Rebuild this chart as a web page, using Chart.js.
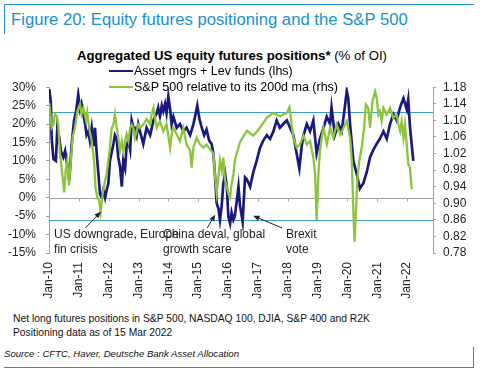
<!DOCTYPE html>
<html lang="en">
<head>
    <meta charset="UTF-8">
    <title>Equity futures positioning and the S&P 500</title>
    <script src="https://cdn.jsdelivr.net/npm/chart.js"></script>
    <style>
        body {
            margin: 0;
            padding: 0;
            width: 480px;
            height: 377px;
            background: #fff;
            font-family: "Liberation Sans", Arial, sans-serif;
            position: relative;
            overflow: hidden;
        }
        .frame-top {
            position: absolute;
            left: 4px; top: 4px;
            width: 469px; height: 29px;
            border-top: 1.5px solid #1a8fd0;
            border-left: 1.5px solid #1a8fd0;
        }
        .frame-bottom {
            position: absolute;
            left: 4px; top: 347px;
            width: 469px; height: 20px;
            border-bottom: 1.5px solid #1a8fd0;
            border-right: 1.5px solid #1a8fd0;
        }
        .fig-title {
            position: absolute;
            left: 11px; top: 10px;
            font-size: 16.7px;
            color: #1a8fd0;
            white-space: nowrap;
        }
        .chart-title {
            position: absolute;
            left: 0; width: 464px; top: 48px;
            text-align: center;
            font-size: 13.2px;
            color: #000;
            white-space: nowrap;
        }
        .legend {
            position: absolute;
            left: 109px;
            font-size: 12.5px;
            color: #000;
            white-space: nowrap;
            display: flex;
            align-items: center;
        }
        .legend span.swatch {
            display: inline-block;
            width: 24px; height: 2.5px;
            margin-right: 1px;
        }
        .chart-box {
            position: absolute;
            left: 0; top: 70px;
            width: 480px; height: 233px;
        }
        .note {
            position: absolute;
            left: 13px;
            font-size: 10.3px;
            color: #111;
            white-space: nowrap;
        }
        .source {
            position: absolute;
            left: 4px; top: 348px;
            font-size: 9.6px;
            font-style: italic;
            color: #111;
            white-space: nowrap;
        }
    </style>
</head>
<body>

<div class="frame-top"></div>
<div class="fig-title">Figure 20: Equity futures positioning and the S&amp;P 500</div>
<div class="chart-title"><b>Aggregated US equity futures positions*</b> (% of OI)</div>

<div class="chart-box"><canvas id="posChart"></canvas></div>

<div class="legend" style="top: 64px;"><span class="swatch" style="background:#1b1a7c"></span>Asset mgrs + Lev funds (lhs)</div>
<div class="legend" style="top: 80px;"><span class="swatch" style="background:#8cc43c"></span>S&amp;P 500 relative to its 200d ma (rhs)</div>

<div class="note" style="top: 313px;">Net long futures positions in S&amp;P 500, NASDAQ 100, DJIA, S&amp;P 400 and R2K</div>
<div class="note" style="top: 327px;">Positioning data as of 15 Mar 2022</div>
<div class="source">Source : CFTC, Haver, Deutsche Bank Asset Allocation</div>
<div class="frame-bottom"></div>

<script>
    // Asset mgrs + Lev funds net position, % of open interest (lhs)
    const posYears = [
        2010.01, 2010.06, 2010.09, 2010.15, 2010.23, 2010.28, 2010.35, 2010.40, 2010.48, 2010.54,
        2010.59, 2010.65, 2010.68, 2010.76, 2010.84, 2010.91, 2010.98, 2011.04, 2011.09, 2011.15,
        2011.21, 2011.26, 2011.32, 2011.37, 2011.43, 2011.49, 2011.54, 2011.60, 2011.65, 2011.71,
        2011.77, 2011.82, 2011.88, 2011.93, 2011.99, 2012.04, 2012.16, 2012.21, 2012.27, 2012.32,
        2012.38, 2012.44, 2012.49, 2012.55, 2012.60, 2012.66, 2012.72, 2012.77, 2012.83, 2012.88,
        2012.94, 2012.99, 2013.05, 2013.16, 2013.27, 2013.39, 2013.50, 2013.61, 2013.66, 2013.72,
        2013.78, 2013.83, 2013.89, 2013.94, 2014.00, 2014.06, 2014.11, 2014.17, 2014.28, 2014.39,
        2014.50, 2014.61, 2014.73, 2014.84, 2014.92, 2014.97, 2015.04, 2015.12, 2015.20, 2015.28,
        2015.37, 2015.45, 2015.51, 2015.56, 2015.62, 2015.68, 2015.73, 2015.79, 2015.84, 2015.90,
        2015.96, 2016.01, 2016.07, 2016.12, 2016.18, 2016.23, 2016.29, 2016.35, 2016.40, 2016.49,
        2016.57, 2016.63, 2016.74, 2016.85, 2016.96, 2017.07, 2017.18, 2017.30, 2017.41, 2017.52,
        2017.63, 2017.74, 2017.85, 2017.97, 2018.08, 2018.19, 2018.30, 2018.39, 2018.47, 2018.53,
        2018.64, 2018.75, 2018.86, 2018.97, 2019.08, 2019.20, 2019.31, 2019.42, 2019.47, 2019.58,
        2019.70, 2019.81, 2019.92, 2019.98, 2020.03, 2020.09, 2020.20, 2020.31, 2020.42, 2020.54,
        2020.65, 2020.76, 2020.87, 2020.98, 2021.09, 2021.21, 2021.32, 2021.43, 2021.54, 2021.65,
        2021.77, 2021.88, 2021.99, 2022.04, 2022.10, 2022.15, 2022.21
    ];
    const posValues = [
        29.5, 26, 16, 10.5, 10, 19, 16, 12.7, 11, 12.7,
        10, 6.5, 4.7, 14.6, 21, 23.5, 28, 24, 25.5, 22.7,
        20, 17, 18, 15.5, 19, 14, 19, 12, 7, 1,
        0, 2, 0, 2, 4, 10, 14.6, 17, 16, 11,
        8.5, 3, 10, 8, 14, 15.6, 13, 21, 19, 19,
        17, 20, 18, 14.6, 19, 17, 21, 23, 24.5, 22,
        25, 23.5, 25.5, 23, 27.5, 24, 20, 22, 19, 20,
        18, 19, 17, 20, 23, 25, 21.5, 19, 17, 18.5,
        15.5, 14.6, 12, 6.5, -1.5, -3, -6, -2, 3.6, 6.5,
        3, -5, -7, -4, -6, -5, -1, 3, -2, -6.5,
        5.5, 5, 3, 7, 10, 13.5, 15.5, 17, 16, 18,
        21, 19, 20, 21, 19, 17, 12, 8, 14, 17,
        20, 18, 21, 12, 16, 19, 22, 20, 24.5, 17,
        20, 18, 25, 29, 27, 20, 10, 6.5, 2.5, 4,
        7, 11, 13, 14.6, 16, 18, 16, 20, 22.7, 21,
        24.6, 27, 24, 26.6, 19, 15, 10
    ];

    // S&P 500 relative to its 200-day moving average (rhs)
    const spxYears = [
        2010.01, 2010.09, 2010.15, 2010.20, 2010.26, 2010.31, 2010.37, 2010.42, 2010.48, 2010.51,
        2010.56, 2010.61, 2010.67, 2010.73, 2010.79, 2010.87, 2010.95, 2011.04, 2011.09, 2011.15,
        2011.24, 2011.28, 2011.35, 2011.43, 2011.51, 2011.56, 2011.62, 2011.68, 2011.73, 2011.80,
        2011.88, 2011.93, 2011.99, 2012.04, 2012.10, 2012.16, 2012.21, 2012.27, 2012.32, 2012.38,
        2012.44, 2012.49, 2012.55, 2012.60, 2012.66, 2012.72, 2012.77, 2012.83, 2012.88, 2012.94,
        2012.99, 2013.05, 2013.16, 2013.27, 2013.39, 2013.44, 2013.50, 2013.55, 2013.61, 2013.72,
        2013.83, 2013.94, 2014.06, 2014.11, 2014.17, 2014.28, 2014.39, 2014.50, 2014.61, 2014.73,
        2014.78, 2014.84, 2014.95, 2015.06, 2015.17, 2015.28, 2015.40, 2015.51, 2015.56, 2015.62,
        2015.68, 2015.73, 2015.79, 2015.84, 2015.90, 2015.96, 2016.01, 2016.07, 2016.12, 2016.18,
        2016.23, 2016.29, 2016.35, 2016.40, 2016.63, 2016.85, 2017.07, 2017.30, 2017.52, 2017.74,
        2017.97, 2018.06, 2018.13, 2018.19, 2018.30, 2018.41, 2018.53, 2018.64, 2018.75, 2018.86,
        2018.92, 2018.97, 2019.03, 2019.08, 2019.14, 2019.20, 2019.31, 2019.42, 2019.53, 2019.64,
        2019.76, 2019.87, 2019.98, 2020.09, 2020.15, 2020.20, 2020.24, 2020.29, 2020.34, 2020.40,
        2020.48, 2020.56, 2020.62, 2020.70, 2020.76, 2020.84, 2020.93, 2020.98, 2021.04, 2021.09,
        2021.15, 2021.21, 2021.32, 2021.43, 2021.54, 2021.65, 2021.71, 2021.77, 2021.82, 2021.88,
        2021.93, 2021.99, 2022.04, 2022.10, 2022.15, 2022.18
    ];
    const spxValues = [
        1.142, 1.082, 1.090, 1.115, 1.110, 1.090, 1.020, 0.986, 0.948, 0.926,
        0.979, 1.003, 0.943, 1.003, 1.058, 1.082, 1.122, 1.139, 1.115, 1.130,
        1.100, 1.120, 1.080, 1.050, 1.003, 0.938, 0.914, 0.907, 0.878, 0.924,
        0.955, 0.970, 1.003, 1.034, 1.080, 1.090, 1.115, 1.082, 1.058, 1.027,
        1.050, 1.027, 1.050, 1.067, 1.050, 1.082, 1.090, 1.082, 1.058, 1.074,
        1.090, 1.082, 1.090, 1.103, 1.090, 1.115, 1.130, 1.106, 1.082, 1.098,
        1.074, 1.090, 1.034, 1.066, 1.082, 1.066, 1.050, 1.082, 1.042, 1.027,
        0.986, 1.034, 1.058, 1.042, 1.034, 1.042, 1.030, 1.020, 0.970, 0.924,
        0.963, 1.003, 0.979, 1.010, 0.955, 0.940, 0.924, 0.914, 0.947, 0.970,
        1.003, 1.020, 1.034, 1.047, 1.075, 1.063, 1.082, 1.106, 1.118, 1.110,
        1.118, 1.132, 1.090, 1.058, 1.034, 1.042, 1.063, 1.042, 1.050, 1.010,
        0.970, 0.859, 0.970, 1.026, 1.058, 1.082, 1.042, 1.082, 1.058, 1.090,
        1.066, 1.082, 1.098, 1.058, 1.003, 0.883, 0.807, 0.883, 0.962, 1.003,
        1.034, 1.082, 1.138, 1.130, 1.082, 1.146, 1.170, 1.154, 1.114, 1.122,
        1.098, 1.130, 1.114, 1.130, 1.106, 1.114, 1.090, 1.074, 1.098, 1.058,
        1.090, 1.042, 0.995, 0.986, 0.938, 0.934
    ];

    // axis ticks
    const yearTicks = [2010, 2011, 2012, 2013, 2014, 2015, 2016, 2017, 2018, 2019, 2020, 2021, 2022];
    const lhsTicks = [-15, -10, -5, 0, 5, 10, 15, 20, 25, 30];
    const rhsTicks = [0.78, 0.82, 0.86, 0.90, 0.94, 0.98, 1.02, 1.06, 1.10, 1.14, 1.18];

    // horizontal reference levels (rhs units)
    const refLevels = [1.12, 0.86];

    // annotation text + arrows, in data units (year, lhs %)
    const notes = [
        { lines: ['US downgrade, Europe', 'fin crisis'], x: 2010.17, y: -10.9, from: [2011.22, -8.2], to: [2011.74, -3.8] },
        { lines: ['China deval, global', 'growth scare'], x: 2013.82, y: -10.9, from: [2015.30, -8.2], to: [2015.57, -4.6] },
        { lines: ['Brexit', 'vote'], x: 2017.94, y: -10.9, from: [2017.81, -8.2], to: [2016.84, -4.9] }
    ];

    const NAVY = '#1b1a7c';
    const GREEN = '#8cc43c';
    const REF_BLUE = '#3d9ad1';
    const AXIS_GREY = '#a0a0a0';
    const TXT = '#222';

    function toPoints(xs, ys) {
        return xs.map((x, i) => ({ x: x, y: ys[i] }));
    }

    // zero line with year ticks + reference lines under the series, notes on top
    const underlayPlugin = {
        id: 'underlay',
        beforeDatasetsDraw(chart) {
            const ctx = chart.ctx;
            const area = chart.chartArea;
            const xs = chart.scales.x;
            const yl = chart.scales.y;
            const yr = chart.scales.y2;
            ctx.save();
            ctx.lineWidth = 1.2;
            ctx.strokeStyle = REF_BLUE;
            refLevels.forEach(v => {
                const py = Math.round(yr.getPixelForValue(v)) + 0.5;
                ctx.beginPath();
                ctx.moveTo(area.left, py);
                ctx.lineTo(area.right, py);
                ctx.stroke();
            });
            const zy = Math.round(yl.getPixelForValue(0)) + 0.5;
            ctx.strokeStyle = AXIS_GREY;
            ctx.lineWidth = 1;
            ctx.beginPath();
            ctx.moveTo(area.left, zy);
            ctx.lineTo(area.right, zy);
            yearTicks.forEach(t => {
                const px = Math.round(xs.getPixelForValue(t)) + 0.5;
                ctx.moveTo(px, zy);
                ctx.lineTo(px, zy + 3);
            });
            ctx.stroke();
            ctx.restore();
        },
        afterDatasetsDraw(chart) {
            const ctx = chart.ctx;
            const xs = chart.scales.x;
            const yl = chart.scales.y;
            ctx.save();
            ctx.font = '12px "Liberation Sans", Arial, sans-serif';
            ctx.fillStyle = TXT;
            ctx.textBaseline = 'alphabetic';
            notes.forEach(n => {
                const tx = xs.getPixelForValue(n.x);
                const ty = yl.getPixelForValue(n.y);
                n.lines.forEach((line, i) => ctx.fillText(line, tx, ty + i * 15));

                const x1 = xs.getPixelForValue(n.from[0]), y1 = yl.getPixelForValue(n.from[1]);
                const x2 = xs.getPixelForValue(n.to[0]), y2 = yl.getPixelForValue(n.to[1]);
                const ang = Math.atan2(y2 - y1, x2 - x1);
                ctx.strokeStyle = TXT;
                ctx.lineWidth = 1;
                ctx.beginPath();
                ctx.moveTo(x1, y1);
                ctx.lineTo(x2 - 4 * Math.cos(ang), y2 - 4 * Math.sin(ang));
                ctx.stroke();
                ctx.beginPath();
                ctx.moveTo(x2, y2);
                ctx.lineTo(x2 - 7 * Math.cos(ang - 0.4), y2 - 7 * Math.sin(ang - 0.4));
                ctx.lineTo(x2 - 7 * Math.cos(ang + 0.4), y2 - 7 * Math.sin(ang + 0.4));
                ctx.closePath();
                ctx.fill();
            });
            ctx.restore();
        }
    };

    const tickFont = { family: '"Liberation Sans", Arial, sans-serif', size: 12 };

    new Chart(document.getElementById('posChart').getContext('2d'), {
        type: 'line',
        data: {
            datasets: [
                {
                    label: 'S&P 500 relative to its 200d ma (rhs)',
                    data: toPoints(spxYears, spxValues),
                    yAxisID: 'y2',
                    borderColor: GREEN,
                    borderWidth: 2.3,
                    pointRadius: 0,
                    tension: 0,
                    order: 0
                },
                {
                    label: 'Asset mgrs + Lev funds (lhs)',
                    data: toPoints(posYears, posValues),
                    yAxisID: 'y',
                    borderColor: NAVY,
                    borderWidth: 2.7,
                    pointRadius: 0,
                    tension: 0,
                    order: 1
                }
            ]
        },
        options: {
            responsive: true,
            maintainAspectRatio: false,
            animation: false,
            layout: { padding: { top: 16, bottom: 0, left: 0, right: 0 } },
            plugins: {
                legend: { display: false },
                tooltip: { enabled: false }
            },
            scales: {
                x: {
                    type: 'linear',
                    min: 2010,
                    max: 2022.87,
                    afterBuildTicks: s => { s.ticks = yearTicks.map(v => ({ value: v })); },
                    afterFit: s => { s.height = 50; },
                    grid: { display: false, drawTicks: false },
                    border: { display: false },
                    ticks: {
                        autoSkip: false,
                        minRotation: 90,
                        maxRotation: 90,
                        padding: 9,
                        color: TXT,
                        font: tickFont,
                        callback: v => 'Jan-' + String(v % 100).padStart(2, '0')
                    }
                },
                y: {
                    position: 'left',
                    min: -15,
                    max: 30,
                    afterBuildTicks: s => { s.ticks = lhsTicks.map(v => ({ value: v })); },
                    afterFit: s => { s.width = 49; },
                    grid: { display: true, drawOnChartArea: false, drawTicks: true, tickLength: 3, color: AXIS_GREY },
                    border: { display: true, color: AXIS_GREY },
                    ticks: { autoSkip: false, padding: 10, color: TXT, font: tickFont, callback: v => v + '%' }
                },
                y2: {
                    position: 'right',
                    min: 0.78,
                    max: 1.18,
                    afterBuildTicks: s => { s.ticks = rhsTicks.map(v => ({ value: v })); },
                    afterFit: s => { s.width = 47; },
                    grid: { display: true, drawOnChartArea: false, drawTicks: true, tickLength: 3, color: AXIS_GREY },
                    border: { display: true, color: AXIS_GREY },
                    ticks: { autoSkip: false, padding: 7, color: TXT, font: tickFont, callback: v => v.toFixed(2) }
                }
            }
        },
        plugins: [underlayPlugin]
    });
</script>
</body>
</html>
